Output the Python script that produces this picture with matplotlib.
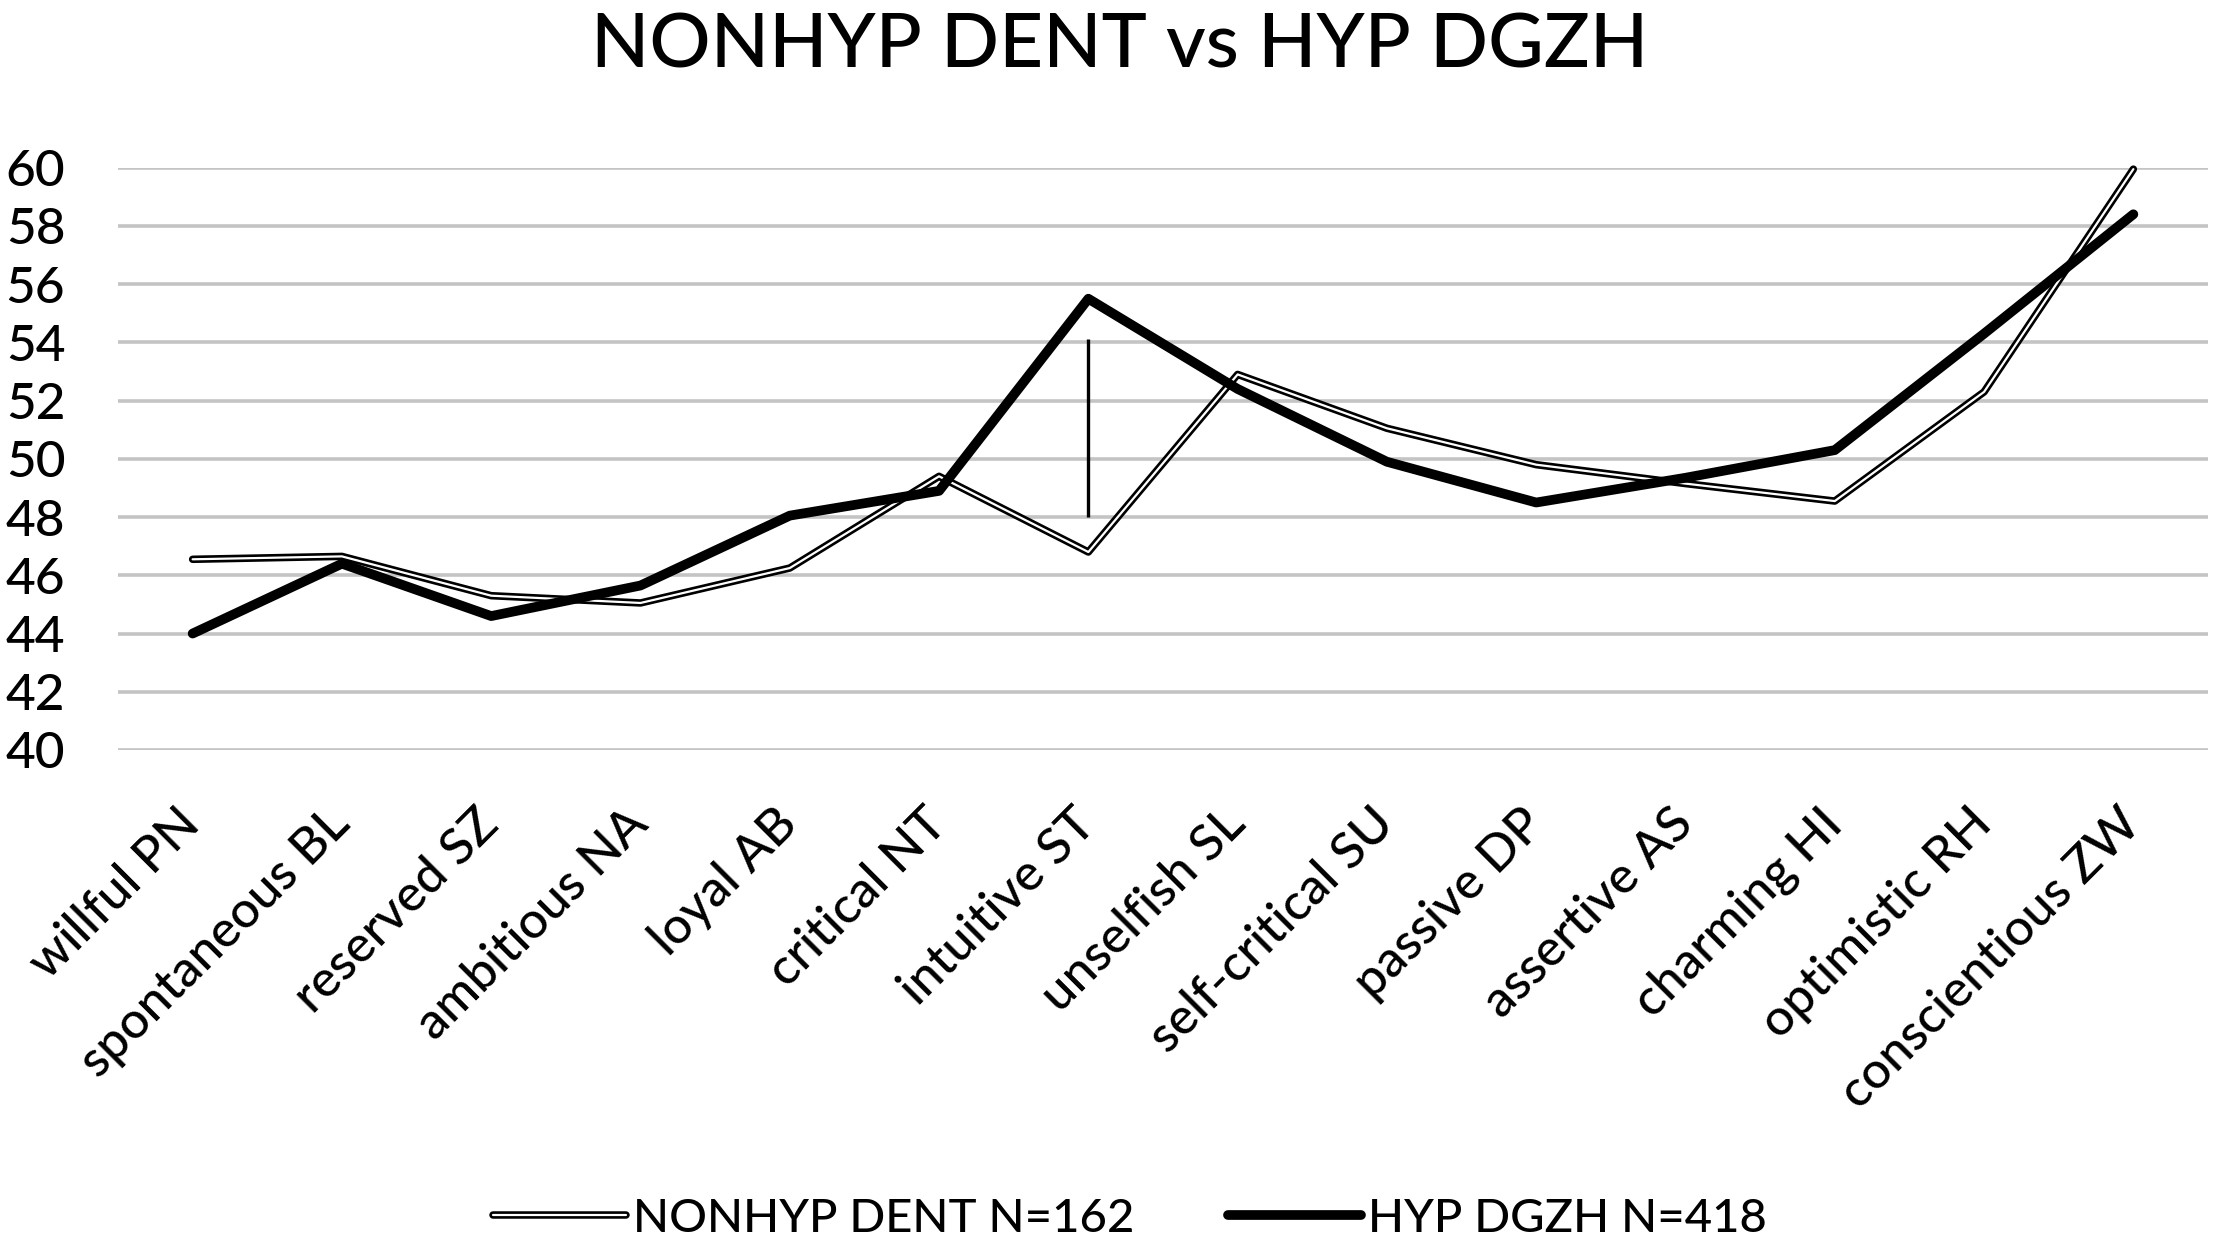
import matplotlib
matplotlib.use("Agg")
import matplotlib.pyplot as plt
from matplotlib.legend_handler import HandlerTuple

plt.rcParams['font.family'] = ['Lato', 'DejaVu Sans']
plt.rcParams['font.weight'] = 'medium'

categories = ["willful PN", "spontaneous BL", "reserved SZ", "ambitious NA", "loyal AB",
              "critical NT", "intuitive ST", "unselfish SL", "self-critical SU", "passive DP",
              "assertive AS", "charming HI", "optimistic RH", "conscientious ZW"]
nonhyp_dent = [46.55, 46.65, 45.3, 45.05, 46.25, 49.4, 46.8, 52.9, 51.05, 49.8,
               49.15, 48.55, 52.3, 59.95]
hyp_dgzh = [44.0, 46.4, 44.6, 45.65, 48.05, 48.9, 55.5, 52.4, 49.9, 48.5,
            49.35, 50.3, 54.3, 58.4]
marker_cat = "intuitive ST"
marker_range = [48.0, 54.1]
yticks = [40, 42, 44, 46, 48, 50, 52, 54, 56, 58, 60]
title = "NONHYP DENT vs HYP DGZH"
label_nonhyp = "NONHYP DENT N=162"
label_hyp = "HYP DGZH N=418"

W, H = 2217, 1248
fig = plt.figure(figsize=(W / 100, H / 100), dpi=100)
left, right = 118 / W, 2208 / W
top, bottom = 1 - 167.7 / H, 1 - 750 / H
ax = fig.add_axes([left, bottom, right - left, top - bottom])

x = list(range(len(categories)))
ax.set_xlim(-0.5, len(categories) - 0.5)
ax.set_ylim(40, 60)
ax.set_yticks(yticks)
ax.set_yticklabels([str(v) for v in yticks])
ax.grid(axis='y', color='#c4c4c4', linewidth=2.6, zorder=0)
ax.set_axisbelow(True)
for s in ax.spines.values():
    s.set_visible(False)

ax.tick_params(axis='y', length=0, pad=38, labelsize=37)
ax.tick_params(axis='x', length=0, pad=48, labelsize=36.5)
ax.set_xticks(x)
ax.set_xticklabels(categories, rotation=45, ha='right', va='center',
                   rotation_mode='anchor')

l1a, = ax.plot(x, nonhyp_dent, color='black', lw=5.4, solid_joinstyle='round',
               solid_capstyle='round', zorder=2, clip_on=False)
l1b, = ax.plot(x, nonhyp_dent, color='white', lw=1.6, solid_joinstyle='round',
               solid_capstyle='round', zorder=2.1, clip_on=False)
l2, = ax.plot(x, hyp_dgzh, color='black', lw=7.0, solid_joinstyle='round',
              solid_capstyle='round', zorder=3, clip_on=False)
xi = categories.index(marker_cat)
ax.vlines(xi, marker_range[0], marker_range[1], color='black', lw=2.4, zorder=4)

fig.text(0.505, 1 - 68 / H, title, ha='center', va='baseline', fontsize=55)

leg = fig.legend([(l1a, l1b), l2], [label_nonhyp, label_hyp],
                 handler_map={tuple: HandlerTuple(ndivide=1)},
                 loc='center', bbox_to_anchor=(0.5097, 1 - 1219 / H),
                 ncol=2, frameon=False, fontsize=34, handlelength=2.8,
                 handletextpad=0.15, columnspacing=2.0)

fig.savefig("out.png", dpi=100, facecolor='white')
